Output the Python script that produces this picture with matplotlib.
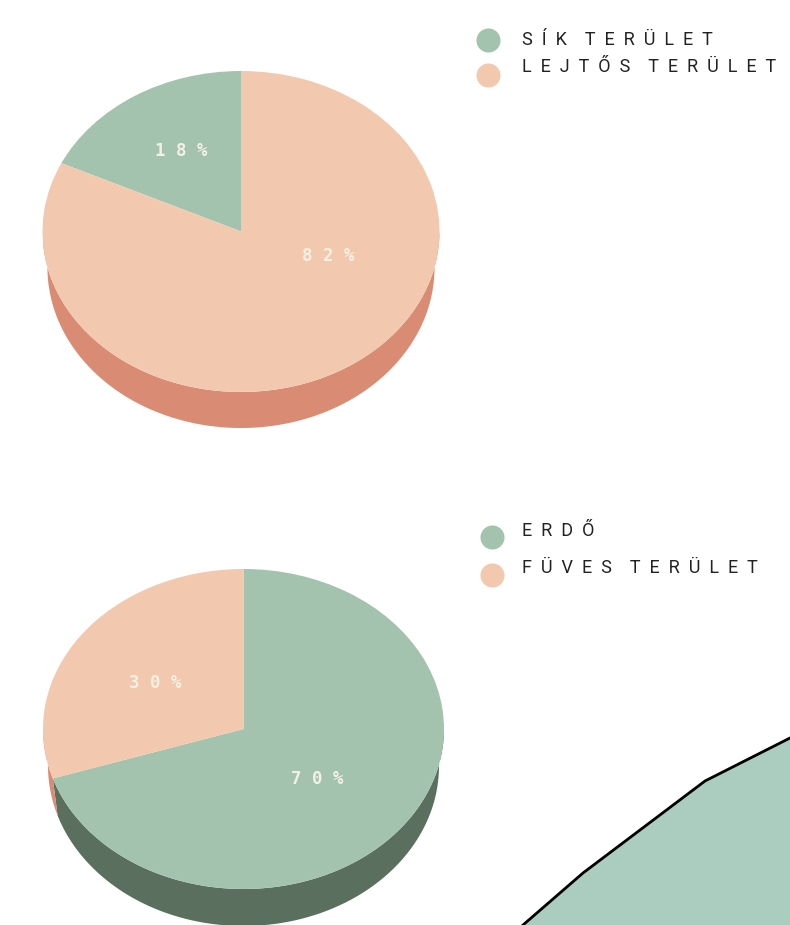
import numpy as np
import matplotlib.pyplot as plt

W, H = 790, 925

# terrain: flat vs sloped
terrain_labels = ["SÍK TERÜLET", "LEJTŐS TERÜLET"]
terrain_values = [18, 82]
terrain_label_pos = [(-0.30, 0.50), (0.44, -0.15)]

# cover: forest vs grassland
cover_labels = ["ERDŐ", "FÜVES TERÜLET"]
cover_values = [70, 30]
cover_label_pos = [(0.37, -0.31), (-0.44, 0.29)]

# outline of the green hill in the lower right corner
hill_x = [523, 583, 705, 790, 790]
hill_y = [925, 873, 781, 738, 925]

GREEN = "#a3c3ae"
PEACH = "#f2c9ae"
GREEN_SIDE = "#5a6f5e"
PEACH_SIDE = "#d98b73"
HILL = "#aacdbf"


def spaced(s):
    # wide letter spacing for the legend captions
    return "    ".join("  ".join(w) for w in s.split(" "))


def px_axes(fig, left, top, w, h):
    return fig.add_axes([left / W, 1 - (top + h) / H, w / W, h / H])


def pie3d(ax, values, colors, side_colors, counterclock, label_pos, depth,
          squeeze=0.975):
    wedges, _, pcts = ax.pie(values, colors=colors, startangle=90,
                             counterclock=counterclock, radius=1,
                             wedgeprops=dict(linewidth=0),
                             autopct=lambda p: " ".join(f"{p:.0f}%"),
                             textprops=dict(color="#f4f1e4", fontsize=12.5,
                                            fontweight="bold",
                                            family="DejaVu Sans Mono"))
    for t, pos in zip(pcts, label_pos):
        t.set_position(pos)
    # rim: the part of each wedge facing the viewer (180..360 deg),
    # bottom edge slightly narrower for a bit of perspective
    for w, sc in zip(wedges, side_colors):
        for n in (-1, 0, 1):
            lo = max(w.theta1, 180 + 360 * n)
            hi = min(w.theta2, 360 + 360 * n)
            if lo >= hi:
                continue
            t = np.radians(np.linspace(lo, hi, 200))
            xs = np.concatenate([np.cos(t), squeeze * np.cos(t[::-1])])
            ys = np.concatenate([np.sin(t), np.sin(t[::-1]) - depth])
            ax.fill(xs, ys, color=sc, lw=0, zorder=0.5)
    ax.set_aspect("auto")
    ax.set_xlim(-1, 1)
    ax.set_ylim(-1 - depth, 1)
    ax.axis("off")


fig = plt.figure(figsize=(W / 100, H / 100), dpi=100)
bg = fig.add_axes([0, 0, 1, 1])
bg.set_xlim(0, W)
bg.set_ylim(H, 0)
bg.axis("off")

bg.fill(hill_x, hill_y, color=HILL, zorder=1)
bg.plot(hill_x[:4], hill_y[:4], color="black", lw=2, zorder=2)

# legends
for labels, x0, dot_y, text_y in [(terrain_labels, 488, (40, 75), (40, 67)),
                                  (cover_labels, 492, (537, 575), (531, 568))]:
    for lab, dy, ty, c in zip(labels, dot_y, text_y, (GREEN, PEACH)):
        bg.scatter([x0], [dy], s=300, color=c, lw=0)
        bg.text(522, ty, spaced(lab), fontsize=13, color="#222222",
                family="Roboto", va="center", ha="left")

ax1 = px_axes(fig, 42.5, 71, 397, 357)
pie3d(ax1, terrain_values, [GREEN, PEACH], [GREEN_SIDE, PEACH_SIDE],
      True, terrain_label_pos, 36 / 160.5)

ax2 = px_axes(fig, 43, 569, 401, 357)
pie3d(ax2, cover_values, [GREEN, PEACH], [GREEN_SIDE, PEACH_SIDE],
      False, cover_label_pos, 37 / 160)

fig.savefig("out.png", dpi=100)
